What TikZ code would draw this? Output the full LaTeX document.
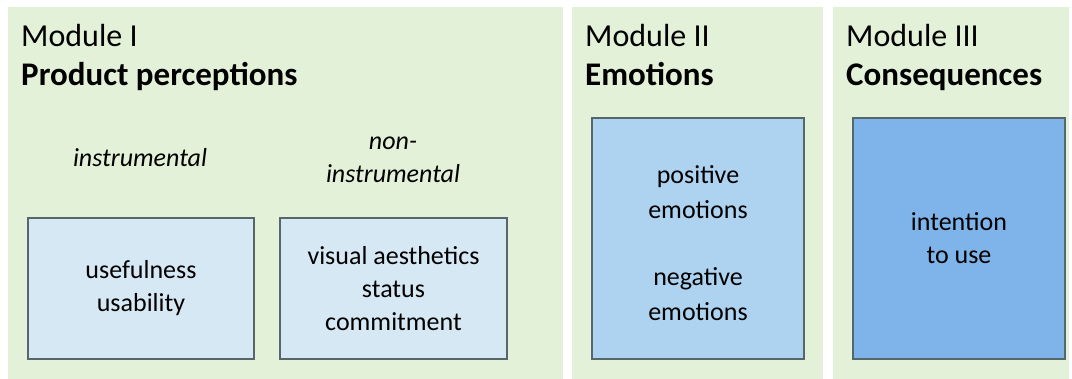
\documentclass[tikz,border=0pt]{standalone}
\usepackage{fontspec}
\setmainfont{Carlito}
\usetikzlibrary{positioning}
\definecolor{panelgreen}{HTML}{E3F1D8}
\definecolor{boxline}{HTML}{56666A}
\definecolor{paleblue}{HTML}{D6E8F4}
\definecolor{midblue}{HTML}{ADD3F0}
\definecolor{deepblue}{HTML}{7FB4EA}
\tikzstyle{Box}=[draw=boxline, line width=2pt, align=center, inner sep=0pt, anchor=north west, font=\fontsize{26}{33}\selectfont]
\tikzstyle{Title}=[anchor=base west, inner sep=0pt, font=\fontsize{32}{38}\selectfont]
\tikzstyle{Head}=[anchor=base west, inner sep=0pt, font=\bfseries\fontsize{33}{38}\selectfont]
\tikzstyle{Kind}=[align=center, inner sep=0pt, font=\itshape\fontsize{26}{33}\selectfont]

\begin{document}
\begin{tikzpicture}[x=1pt,y=-1pt]
		\useasboundingbox (0,0) rectangle (1072,379);
		% panels
		\fill[panelgreen] (8,7) rectangle (563,379);
		\fill[panelgreen] (572,7) rectangle (823,379);
		\fill[panelgreen] (833,7) rectangle (1069,379);
		% Module I
		\node[Title] (m1) at (21,47) {Module I};
		\node[Head] (h1) at (21,86) {Product perceptions};
		\node[Kind, anchor=base] (instr) at (140,167) {instrumental};
		\node[Kind] (noninstr) at (393,160) {non-\\instrumental};
		\node[Box, fill=paleblue, minimum width=226, minimum height=141] (use) at (27,217) {usefulness\\usability};
		\node[Box, fill=paleblue, minimum width=227, minimum height=141] (aes) at (279,217) {visual aesthetics\\status\\commitment};
		% Module II
		\node[Title] (m2) at (585,47) {Module II};
		\node[Head] (h2) at (585,86) {Emotions};
		\node[Box, fill=midblue, minimum width=212, minimum height=241] (emo) at (591,117) {\rule{0pt}{28pt}positive\\[2pt]emotions\\[34pt]negative\\[2pt]emotions};
		% Module III
		\node[Title] (m3) at (846,47) {Module III};
		\node[Head] (h3) at (846,86) {Consequences};
		\node[Box, fill=deepblue, minimum width=212, minimum height=241] (int) at (852,117) {intention\\to use};
		\end{tikzpicture}
\end{document}
